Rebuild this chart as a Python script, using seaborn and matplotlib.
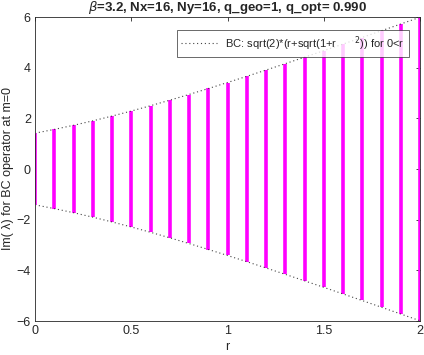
import numpy as np
import matplotlib
matplotlib.use('Agg')
import matplotlib.pyplot as plt
import seaborn as sns

# r values and the largest Im(lambda) read at each r
r_vals = [0.0, 0.1, 0.2, 0.3, 0.4, 0.5, 0.6, 0.7, 0.8, 0.9, 1.0,
          1.1, 1.2, 1.3, 1.4, 1.5, 1.6, 1.7, 1.8, 1.9, 2.0]
im_top = [1.41, 1.56, 1.72, 1.90, 2.09, 2.29, 2.50, 2.72, 2.94, 3.18, 3.41,
          3.66, 3.91, 4.16, 4.41, 4.67, 4.93, 5.19, 5.46, 5.72, 5.99]
# envelope sqrt(2)*(r+sqrt(1+r^2))
env_top = [1.414, 1.563, 1.725, 1.901, 2.089, 2.288, 2.498, 2.716, 2.942, 3.175, 3.414,
           3.658, 3.906, 4.158, 4.413, 4.671, 4.931, 5.193, 5.458, 5.723, 5.991]

sns.set_style('white')
plt.rcParams['font.family'] = ['Liberation Sans', 'DejaVu Sans']

fig = plt.figure(figsize=(4.24, 3.55), dpi=100)
ax = fig.add_axes([35/424, 1-321/355, 385/424, 304/355])

r = np.array(r_vals)
top = np.array(im_top)
env = np.array(env_top)

# eigenvalue columns
ax.vlines(r, -top, top, color='#ff00ff', linewidth=2.6, zorder=2)

# envelope
dots = (0, (1, 2.5))
sns.lineplot(x=r, y=env, ax=ax, color='#444444', linestyle=dots, linewidth=0.8,
             label='BC: sqrt(2)*(r+sqrt(1+r      $^{2}$)) for 0<r', zorder=3)
sns.lineplot(x=r, y=-env, ax=ax, color='#444444', linestyle=dots, linewidth=0.8,
             zorder=3, legend=False)

ax.set_xlim(0, 2)
ax.set_ylim(-6, 6)
ax.set_xticks([0, 0.5, 1, 1.5, 2])
ax.set_xticklabels(['0', '0.5', '1', '1.5', '2'])
ax.set_yticks([-6, -4, -2, 0, 2, 4, 6])
ax.tick_params(direction='in', length=3, width=0.6, colors='#262626',
               labelsize=9, top=True, right=True, pad=3)
for s in ax.spines.values():
    s.set_color('#262626')
    s.set_linewidth(0.6)

ax.set_xlabel('r', fontsize=9, color='#262626', labelpad=3)
ax.set_ylabel('Im( λ) for BC operator at m=0', fontsize=9,
              color='#262626', labelpad=2)
ax.set_title(r'$\beta$=3.2, Nx=16, Ny=16, q_geo=1, q_opt= 0.990',
             fontsize=9.5, fontweight='bold', pad=4)

leg = ax.legend(loc='upper right', fontsize=8, frameon=True, fancybox=False,
                handlelength=3.2, borderpad=0.35, bbox_to_anchor=(0.985, 0.975))
leg.get_frame().set_edgecolor('#262626')
leg.get_frame().set_linewidth(0.6)

fig.savefig('out.png', dpi=100)
